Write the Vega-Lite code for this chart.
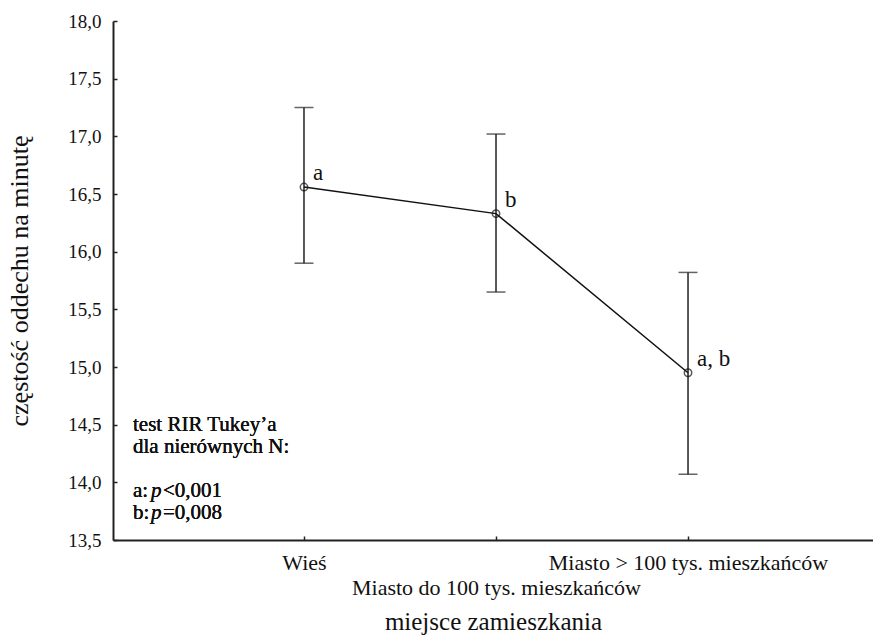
{
  "$schema": "https://vega.github.io/schema/vega-lite/v6.json",
  "width": 760,
  "height": 519,
  "autosize": {"type": "none"},
  "padding": {"left": 113, "top": 21, "right": 0, "bottom": 98},
  "background": "white",
  "config": {
    "view": {"stroke": null},
    "font": "Liberation Serif",
    "text": {"font": "Liberation Serif"},
    "style": {
      "guide-label": {"font": "Liberation Serif"},
      "guide-title": {"font": "Liberation Serif"}
    },
    "axis": {
      "grid": false,
      "domainColor": "#222222",
      "domainWidth": 2,
      "tickColor": "#222222",
      "tickWidth": 1.5,
      "tickSize": -4,
      "labelColor": "#111111",
      "titleColor": "#111111",
      "titleFontWeight": "normal",
      "labelLimit": 0,
      "labelFont": "Liberation Serif",
      "titleFont": "Liberation Serif"
    }
  },
  "data": {
    "values": [
      {"miejsce": "Wieś", "srednia": 16.56, "dolny": 15.9, "gorny": 17.25, "grupa": "a"},
      {"miejsce": "Miasto do 100 tys. mieszkańców", "srednia": 16.33, "dolny": 15.65, "gorny": 17.02, "grupa": "b"},
      {"miejsce": "Miasto > 100 tys. mieszkańców", "srednia": 14.95, "dolny": 14.07, "gorny": 15.82, "grupa": "a, b"}
    ]
  },
  "encoding": {
    "x": {
      "field": "miejsce",
      "type": "nominal",
      "sort": null,
      "scale": {"type": "point", "padding": 0.979, "align": 0.508},
      "axis": {
        "title": "miejsce zamieszkania",
        "titleFont": "Liberation Serif",
        "titleFontSize": 25,
        "titlePadding": 11,
        "labelFont": "Liberation Serif",
        "labelAngle": 0,
        "labelLimit": 0,
        "labelFontSize": 22,
        "labelLineHeight": 25,
        "labelBaseline": "top",
        "labelPadding": 16,
        "labelExpr": "datum.value == 'Miasto do 100 tys. mieszkańców' ? ['', datum.label] : datum.label"
      }
    }
  },
  "layer": [
    {
      "mark": {"type": "rule", "color": "#222222", "strokeWidth": 1.5},
      "encoding": {
        "y": {
          "field": "dolny",
          "type": "quantitative",
          "scale": {"domain": [13.5, 18], "nice": false, "zero": false},
          "axis": {
            "title": "częstość oddechu na minutę",
            "titleFont": "Liberation Serif",
            "titleFontSize": 26,
            "titlePadding": 35,
            "labelFont": "Liberation Serif",
            "values": [13.5, 14, 14.5, 15, 15.5, 16, 16.5, 17, 17.5, 18],
            "labelExpr": "replace(format(datum.value, '.1f'), '.', ',')",
            "labelFontSize": 19,
            "labelPadding": 16
          }
        },
        "y2": {"field": "gorny"}
      }
    },
    {
      "mark": {"type": "tick", "color": "#222222", "size": 19, "thickness": 1.5},
      "encoding": {"y": {"field": "gorny", "type": "quantitative"}}
    },
    {
      "mark": {"type": "tick", "color": "#222222", "size": 19, "thickness": 1.5},
      "encoding": {"y": {"field": "dolny", "type": "quantitative"}}
    },
    {
      "mark": {"type": "line", "color": "#111111", "strokeWidth": 1.5},
      "encoding": {"y": {"field": "srednia", "type": "quantitative"}}
    },
    {
      "mark": {"type": "point", "shape": "circle", "filled": false, "size": 55, "color": "#111111", "strokeWidth": 1.5},
      "encoding": {"y": {"field": "srednia", "type": "quantitative"}}
    },
    {
      "mark": {"type": "text", "font": "Liberation Serif", "align": "left", "baseline": "middle", "dx": 9, "dy": -14, "fontSize": 23, "color": "#111111"},
      "encoding": {
        "y": {"field": "srednia", "type": "quantitative"},
        "text": {"field": "grupa"}
      }
    },
    {
      "mark": {"type": "text", "font": "Liberation Serif", "align": "left", "baseline": "alphabetic", "dx": -171, "fontSize": 21, "lineHeight": 22, "color": "#111111"},
      "encoding": {
        "x": {"datum": "Wieś"},
        "y": {"datum": 14.444},
        "text": {"value": ["test RIR Tukey’a", "dla nierównych N:"]}
      }
    },
    {
      "mark": {"type": "text", "font": "Liberation Serif", "align": "left", "baseline": "alphabetic", "dx": -171, "fontSize": 21, "lineHeight": 22, "color": "#111111"},
      "encoding": {
        "x": {"datum": "Wieś"},
        "y": {"datum": 13.872},
        "text": {"value": ["a:", "b:"]}
      }
    },
    {
      "mark": {"type": "text", "font": "Liberation Serif", "align": "left", "baseline": "alphabetic", "dx": -153, "fontSize": 21, "fontStyle": "italic", "lineHeight": 22, "color": "#111111"},
      "encoding": {
        "x": {"datum": "Wieś"},
        "y": {"datum": 13.872},
        "text": {"value": ["p", "p"]}
      }
    },
    {
      "mark": {"type": "text", "font": "Liberation Serif", "align": "left", "baseline": "alphabetic", "dx": -141, "fontSize": 21, "lineHeight": 22, "color": "#111111"},
      "encoding": {
        "x": {"datum": "Wieś"},
        "y": {"datum": 13.872},
        "text": {"value": ["<0,001", "=0,008"]}
      }
    }
  ]
}
